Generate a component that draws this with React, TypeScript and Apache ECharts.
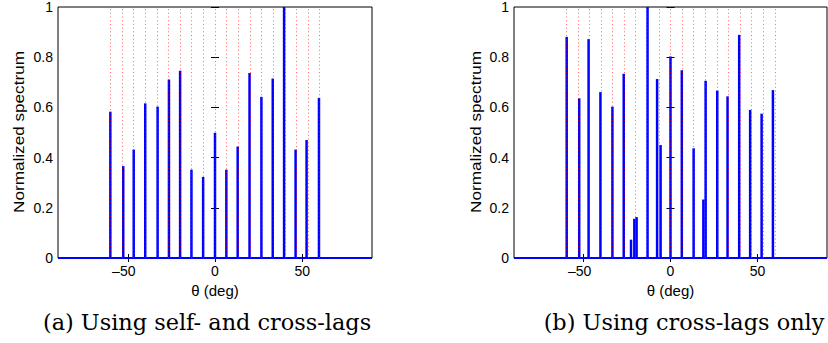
import React, { useEffect, useRef } from "react";
import * as echarts from "echarts";

// True source directions (red dotted reference lines), degrees
const trueDoas = [-60, -53.33, -46.67, -40, -33.33, -26.67, -20, -13.33, -6.67, 0, 6.67, 13.33, 20, 26.67, 33.33, 40, 46.67, 53.33, 60];

// (a) Using self- and cross-lags: peak positions and normalized heights
const peaksAtheta = [-60, -52.6, -46.6, -40, -32.9, -26.4, -20, -13.5, -6.8, 0, 6.5, 13, 19.8, 26.6, 33.1, 39.6, 46.2, 52.5, 59.6];
const peaksAvalue = [0.583, 0.366, 0.432, 0.616, 0.603, 0.711, 0.746, 0.352, 0.323, 0.499, 0.352, 0.444, 0.737, 0.642, 0.715, 1.0, 0.432, 0.47, 0.638];

// (b) Using cross-lags only
const peaksBtheta = [-59.7, -52.5, -47.1, -40.3, -33.4, -26.9, -22.7, -20.8, -19.5, -13.2, -7.7, -5.7, 0, 6.5, 13.3, 18.9, 20.2, 26.9, 32.8, 39.5, 45.8, 52.4, 58.9];
const peaksBvalue = [0.881, 0.636, 0.872, 0.661, 0.603, 0.734, 0.073, 0.156, 0.163, 1.0, 0.713, 0.45, 0.803, 0.748, 0.437, 0.233, 0.706, 0.667, 0.644, 0.889, 0.59, 0.575, 0.669];

const xTicks = [-50, 0, 50];
const xRange = [-90, 90];
const captions = ["(a) Using self- and cross-lags", "(b) Using cross-lags only"];
const xName = "θ (deg)";
const yName = "Normalized spectrum";

const sansFont = "Liberation Sans";
const serifFont = "DejaVu Serif";

function fmtX(v: number) {
  return v < 0 ? "{n|–" + Math.abs(v) + "}" : String(v);
}
function fmtY(v: number) {
  return String(Math.round(v * 10) / 10);
}

export default function App() {
  const ref = useRef<HTMLDivElement>(null);
  useEffect(() => {
    document.body.style.margin = "0";
    if (!ref.current) return;
    const chart = echarts.init(ref.current, undefined, { renderer: "svg" });

    const grids = [
      { left: 58, top: 6, width: 314, height: 252 },
      { left: 514, top: 6, width: 313, height: 252 },
    ];
    const tick = { show: true, inside: true, length: 4, lineStyle: { color: "#000", width: 1 } };
    const xAxes: any[] = [];
    const yAxes: any[] = [];
    grids.forEach((_, gi) => {
      xAxes.push({
        type: "value",
        gridIndex: gi,
        position: "bottom",
        min: xRange[0],
        max: xRange[1],
        axisLine: { show: false },
        axisTick: { ...tick, customValues: xTicks },
        axisLabel: {
          customValues: xTicks,
          formatter: fmtX,
          color: "#000",
          fontFamily: sansFont,
          fontSize: 14,
          margin: 6,
          rich: { n: { color: "#000", fontFamily: sansFont, fontSize: 14, padding: [0, 8, 0, 0] } },
        },
        splitLine: { show: false },
        name: xName,
        nameLocation: "middle",
        nameGap: 20,
        nameTextStyle: { color: "#000", fontFamily: sansFont, fontSize: 15 },
      });
      xAxes.push({
        type: "value",
        gridIndex: gi,
        position: "top",
        min: xRange[0],
        max: xRange[1],
        axisLine: { show: false },
        axisTick: { ...tick, customValues: xTicks },
        axisLabel: { show: false },
        splitLine: { show: false },
      });
      yAxes.push({
        type: "value",
        gridIndex: gi,
        position: "left",
        min: 0,
        max: 1,
        interval: 0.2,
        axisLine: { show: false },
        axisTick: tick,
        axisLabel: { formatter: fmtY, color: "#000", fontFamily: sansFont, fontSize: 14, margin: 5 },
        splitLine: { show: false },
      });
      yAxes.push({
        type: "value",
        gridIndex: gi,
        position: "right",
        min: 0,
        max: 1,
        interval: 0.2,
        axisLine: { show: false },
        axisTick: tick,
        axisLabel: { show: false },
        splitLine: { show: false },
      });
    });

    const panels = [
      { theta: peaksAtheta, value: peaksAvalue },
      { theta: peaksBtheta, value: peaksBvalue },
    ];
    const dotColor = "rgba(255,0,0,0.6)";
    const series: any[] = [];
    panels.forEach((p, gi) => {
      series.push({
        type: "line",
        xAxisIndex: gi * 2,
        yAxisIndex: gi * 2,
        data: [
          [xRange[0], 0],
          [xRange[1], 0],
        ],
        symbol: "none",
        color: "#0000ff",
        itemStyle: { color: "#0000ff" },
        lineStyle: { color: "#0000ff", width: 2 },
        z: 4,
        silent: true,
      });
      series.push({
        type: "line",
        xAxisIndex: gi * 2,
        yAxisIndex: gi * 2,
        data: [],
        symbol: "none",
        color: dotColor,
        itemStyle: { color: dotColor },
        z: 1,
        silent: true,
        markLine: {
          silent: true,
          symbol: ["none", "none"],
          label: { show: false },
          itemStyle: { color: dotColor },
          lineStyle: { color: dotColor, width: 1, type: [1, 2.7], opacity: 1 },
          data: trueDoas.map((v) => ({ xAxis: v, lineStyle: { color: dotColor } })),
        },
      });
      series.push({
        type: "bar",
        xAxisIndex: gi * 2,
        yAxisIndex: gi * 2,
        data: p.theta.map((t, i) => [t, p.value[i]]),
        barWidth: 2.5,
        itemStyle: { color: "#0000ff" },
        z: 3,
        silent: true,
      });
    });

    const yNameX = [19.5, 476.5];
    const yNameScale = 162 / (9.446 * 14);
    chart.setOption({
      animation: false,
      grid: grids.map((g) => ({ ...g, show: true, borderColor: "#000", borderWidth: 1, backgroundColor: "transparent" })),
      xAxis: xAxes,
      yAxis: yAxes,
      series,
      graphic: [
        ...yNameX.map((x) => ({
          type: "text",
          x,
          y: 132,
          rotation: Math.PI / 2,
          scaleX: yNameScale,
          style: { text: yName, fill: "#000", font: `14px "${sansFont}"`, textAlign: "center", textVerticalAlign: "middle" },
        })),
        { type: "text", x: 207, y: 322, style: { text: captions[0], fill: "#000", font: `22.4px "${serifFont}"`, textAlign: "center", textVerticalAlign: "middle" } },
        { type: "text", x: 684, y: 322, style: { text: captions[1], fill: "#000", font: `22.4px "${serifFont}"`, textAlign: "center", textVerticalAlign: "middle" } },
      ],
    });
    return () => chart.dispose();
  }, []);
  return <div ref={ref} style={{ width: 828, height: 343 }} />;
}
